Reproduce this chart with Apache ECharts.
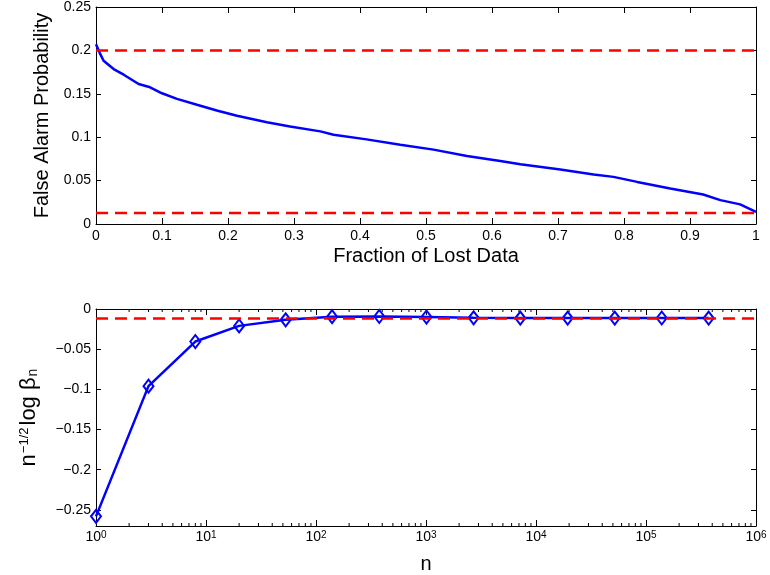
<!DOCTYPE html>
<html>
<head>
<meta charset="utf-8">
<script src="https://cdn.jsdelivr.net/npm/echarts@6/dist/echarts.min.js"></script>
<style>html,body{margin:0;padding:0;background:#fff}#c{width:770px;height:575px}</style>
</head>
<body>
<div id="c"></div>
<script>
// ---- Top panel data ----
const lossFraction = [0, 0.0065, 0.0115, 0.0267, 0.042, 0.0646, 0.082, 0.1, 0.1227, 0.153, 0.183, 0.2136, 0.259, 0.294, 0.34, 0.36, 0.41, 0.461, 0.5115, 0.562, 0.6126, 0.643, 0.7035, 0.754, 0.784, 0.82, 0.87, 0.92, 0.946, 0.976, 1.0];
const falseAlarm   = [0.2072, 0.1957, 0.188, 0.1785, 0.172, 0.1613, 0.1575, 0.1506, 0.1441, 0.1373, 0.1307, 0.1247, 0.1173, 0.1124, 0.1067, 0.1029, 0.0975, 0.0914, 0.0857, 0.0784, 0.0726, 0.0688, 0.0627, 0.057, 0.0543, 0.0485, 0.0409, 0.034, 0.0275, 0.0226, 0.0141];
const upperBound = 0.2;
const lowerBound = 0.0128;
const topXTicks = ['0','0.1','0.2','0.3','0.4','0.5','0.6','0.7','0.8','0.9','1'];
const topYTicks = ['0','0.05','0.1','0.15','0.2','0.25'];

// ---- Bottom panel data ----
const nValues  = [1, 3, 8, 20, 53, 140, 376, 1010, 2710, 7200, 19400, 52000, 139000, 371000];
const betaRate = [-0.258, -0.096, -0.0405, -0.021, -0.0135, -0.0095, -0.0093, -0.0100, -0.0110, -0.0113, -0.0113, -0.0113, -0.0112, -0.0113];
const betaLimit = -0.0118;
const minorMultipliers = [2,3,4,5,6,7,8,9];
const decades = [1, 10, 100, 1000, 10000, 100000];

const FONT = "'Liberation Sans', Arial, Helvetica, sans-serif";
const minorTickValues = [];
decades.forEach(d => minorMultipliers.forEach(m => minorTickValues.push(d * m)));

const chart = echarts.init(document.getElementById('c'), null, {renderer: 'canvas'});

const axisLine = {show: true, onZero: false, lineStyle: {color: '#000', width: 1}};
const tickIn = len => ({show: true, inside: true, length: len, lineStyle: {color: '#000', width: 1}});
const lblStyle = {color: '#000', fontFamily: FONT, fontSize: 14};

function fmtNum(v) {
  const r = Math.round(v * 1000) / 1000;
  if (Math.abs(r / 0.05 - Math.round(r / 0.05)) > 1e-6) return '';
  if (r === 0) return '0';
  const s = String(Math.abs(r));
  return (r < 0 ? '\u2212' : '') + s;
}

const option = {
  animation: false,
  backgroundColor: '#fff',
  grid: [
    {left: 96, right: 14, top: 6, height: 218},
    {left: 96, right: 14, top: 309, height: 217}
  ],
  xAxis: [
    {gridIndex: 0, type: 'value', min: 0, max: 1, interval: 0.1, position: 'bottom',
     axisLine, axisTick: tickIn(6), splitLine: {show: false},
     axisLabel: Object.assign({margin: 5, formatter: (v) => topXTicks[Math.round(v * 10)] || ''}, lblStyle),
     name: 'Fraction of Lost Data', nameLocation: 'middle', nameGap: 22,
     nameTextStyle: {color: '#000', fontFamily: FONT, fontSize: 20}},
    {gridIndex: 0, type: 'value', min: 0, max: 1, interval: 0.1, position: 'top',
     axisLine, axisTick: tickIn(6), axisLabel: {show: false}, splitLine: {show: false}},
    {gridIndex: 1, type: 'log', logBase: 10, min: 1, max: 1000000, interval: 1, position: 'bottom',
     axisLine, axisTick: tickIn(6), splitLine: {show: false},
     axisLabel: {margin: 4, color: '#000', fontFamily: FONT,
       formatter: (v) => '{b|10}{s|' + Math.round(Math.log10(v)) + '}',
       rich: {
         b: {fontSize: 14, lineHeight: 14, padding: [7, 0, 0, 0], verticalAlign: 'bottom', fontFamily: FONT, color: '#000'},
         s: {fontSize: 10, lineHeight: 10, verticalAlign: 'top', fontFamily: FONT, color: '#000'}
       }},
     name: 'n', nameLocation: 'middle', nameGap: 28,
     nameTextStyle: {color: '#000', fontFamily: FONT, fontSize: 20}},
    {gridIndex: 1, type: 'log', logBase: 10, min: 1, max: 1000000, interval: 1, position: 'top',
     axisLine, axisTick: tickIn(6), axisLabel: {show: false}, splitLine: {show: false}}
  ],
  yAxis: [
    {gridIndex: 0, type: 'value', min: 0, max: 0.25, interval: 0.05, position: 'left',
     axisLine, axisTick: tickIn(5), splitLine: {show: false},
     axisLabel: Object.assign({margin: 5, formatter: (v) => topYTicks[Math.round(v / 0.05)] || ''}, lblStyle),
     name: 'False Alarm Probability', nameLocation: 'middle', nameGap: 41, nameRotate: 90,
     nameTextStyle: {color: '#000', fontFamily: FONT, fontSize: 20}},
    {gridIndex: 0, type: 'value', min: 0, max: 0.25, interval: 0.05, position: 'right',
     axisLine, axisTick: tickIn(5), axisLabel: {show: false}, splitLine: {show: false}},
    {gridIndex: 1, type: 'value', min: -0.27, max: 0, position: 'left',
     axisLine, axisTick: tickIn(5), splitLine: {show: false},
     axisLabel: Object.assign({margin: 5, showMinLabel: true, formatter: fmtNum}, lblStyle),
     name: '{m|n}{sup|\u22121/2}{m|log \u03b2}{sub|n}', nameLocation: 'middle', nameGap: 49, nameRotate: 90,
     nameTextStyle: {color: '#000', fontFamily: FONT, fontSize: 22,
       rich: {
         m: {fontSize: 22, lineHeight: 22, padding: [5, 0, 5, 0], fontFamily: FONT, color: '#000'},
         sup: {fontSize: 13, lineHeight: 13, padding: [0, 2, 0, 1], verticalAlign: 'top', fontFamily: FONT, color: '#000'},
         sub: {fontSize: 14, lineHeight: 14, padding: [0, 0, 0, 1], verticalAlign: 'bottom', fontFamily: FONT, color: '#000'}
       }}},
    {gridIndex: 1, type: 'value', min: -0.27, max: 0, position: 'right',
     axisLine, axisTick: tickIn(5), axisLabel: {show: false}, splitLine: {show: false}}
  ],
  series: [
    {type: 'line', xAxisIndex: 0, yAxisIndex: 0, showSymbol: false, symbol: 'none',
     data: lossFraction.map((x, i) => [x, falseAlarm[i]]),
     lineStyle: {color: '#0000ff', width: 2.5}, z: 3},
    {type: 'line', xAxisIndex: 0, yAxisIndex: 0, symbol: 'none',
     data: [[0, upperBound], [1, upperBound]],
     lineStyle: {color: '#ff0000', width: 2.5, type: [12, 7]}, z: 4},
    {type: 'line', xAxisIndex: 0, yAxisIndex: 0, symbol: 'none',
     data: [[0, lowerBound], [1, lowerBound]],
     lineStyle: {color: '#ff0000', width: 2.5, type: [12, 7]}, z: 4},
    {type: 'line', xAxisIndex: 2, yAxisIndex: 2, symbol: 'diamond', symbolSize: [10, 13],
     showAllSymbol: true, clip: false,
     data: nValues.map((x, i) => [x, betaRate[i]]),
     lineStyle: {color: '#0000ff', width: 2.5},
     itemStyle: {color: 'rgba(0,0,0,0)', borderColor: '#0000ff', borderWidth: 2}, z: 3},
    {type: 'line', xAxisIndex: 2, yAxisIndex: 2, symbol: 'none',
     data: [[1, betaLimit], [1000000, betaLimit]],
     lineStyle: {color: '#ff0000', width: 2.5, type: [12, 7]}, z: 4},
    {type: 'custom', xAxisIndex: 2, yAxisIndex: 2, clip: false, silent: true,
     data: minorTickValues.map(v => [v]),
     renderItem: function (params, api) {
       const b = api.coord([api.value(0), -0.27]);
       const t = api.coord([api.value(0), 0]);
       const st = {stroke: '#000', lineWidth: 1};
       return {type: 'group', children: [
         {type: 'line', shape: {x1: b[0], y1: b[1], x2: b[0], y2: b[1] - 3}, style: st},
         {type: 'line', shape: {x1: t[0], y1: t[1], x2: t[0], y2: t[1] + 3}, style: st}
       ]};
     }, z: 5}
  ]
};
chart.setOption(option);
</script>
</body>
</html>
